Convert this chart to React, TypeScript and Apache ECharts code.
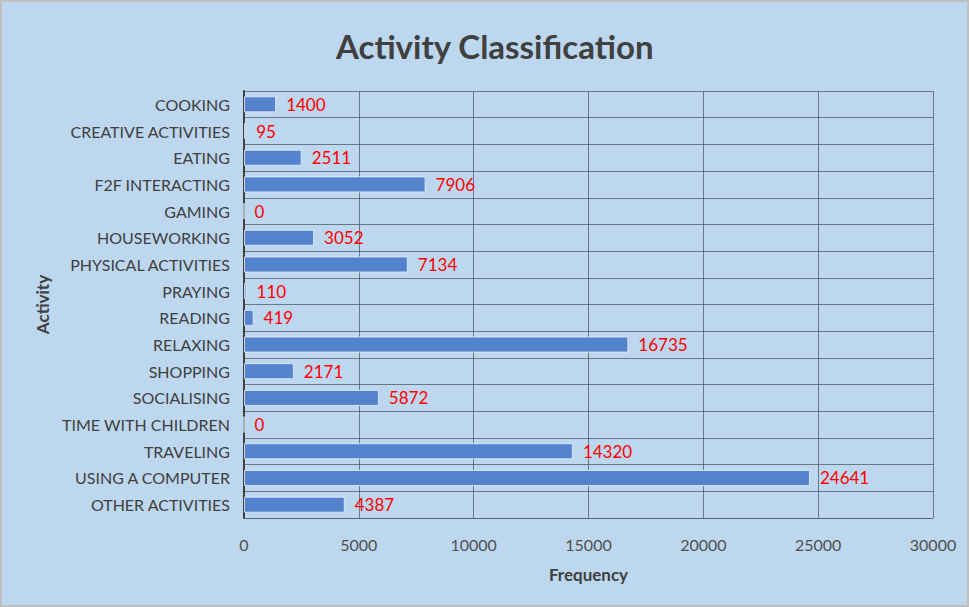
import React, { useEffect, useRef } from "react";
import * as echarts from "echarts";

const categories = [
  "COOKING",
  "CREATIVE ACTIVITIES",
  "EATING",
  "F2F INTERACTING",
  "GAMING",
  "HOUSEWORKING",
  "PHYSICAL ACTIVITIES",
  "PRAYING",
  "READING",
  "RELAXING",
  "SHOPPING",
  "SOCIALISING",
  "TIME WITH CHILDREN",
  "TRAVELING",
  "USING A COMPUTER",
  "OTHER ACTIVITIES",
];
const frequencies = [1400, 95, 2511, 7906, 0, 3052, 7134, 110, 419, 16735, 2171, 5872, 0, 14320, 24641, 4387];
const titleText = "Activity Classification";
const xAxisName = "Frequency";
const yAxisName = "Activity";

const FONT = "Lato, 'Open Sans', sans-serif";

export default function App() {
  const ref = useRef<HTMLDivElement>(null);
  useEffect(() => {
    if (!ref.current) return;
    const chart = echarts.init(ref.current, null, { renderer: "svg" });
    chart.setOption({
      animation: false,
      backgroundColor: "#BDD7EE",
      title: {
        text: titleText,
        left: 329,
        top: 22,
        textStyle: { fontFamily: FONT, fontSize: 33, fontWeight: "bold", color: "#404040" },
      },
      grid: { left: 242, right: 34, top: 89, bottom: 87, containLabel: false },
      xAxis: {
        type: "value",
        min: 0,
        max: 30000,
        interval: 5000,
        name: xAxisName,
        nameLocation: "middle",
        nameGap: 48,
        nameTextStyle: { fontFamily: FONT, fontSize: 17, fontWeight: "bold", color: "#404040" },
        axisLine: { show: true, lineStyle: { color: "rgba(80,90,100,0.7)", width: 1 } },
        axisTick: { show: false },
        axisLabel: {
          fontFamily: FONT,
          fontSize: 16,
          color: "#505050",
          margin: 18,
          formatter: (v: number) => String(v),
        },
        splitLine: { show: true, lineStyle: { color: "rgba(70,80,90,0.7)", width: 1 } },
      },
      yAxis: {
        type: "category",
        data: categories,
        inverse: true,
        name: yAxisName,
        nameLocation: "middle",
        nameGap: 184,
        nameRotate: 90,
        nameTextStyle: { fontFamily: FONT, fontSize: 17, fontWeight: "bold", color: "#404040" },
        axisLine: { show: true, lineStyle: { color: "#404040", width: 2 } },
        axisTick: { show: false },
        axisLabel: { fontFamily: FONT, fontSize: 16, color: "#404040", margin: 14 },
        splitLine: { show: true, lineStyle: { color: "rgba(70,80,90,0.7)", width: 1 } },
      },
      series: [
        {
          type: "bar",
          data: frequencies,
          barWidth: "60%",
          itemStyle: { color: "#5582CC", borderColor: "rgba(230,240,255,0.8)", borderWidth: 1 },
          label: {
            show: true,
            position: "right",
            distance: 10,
            fontFamily: FONT,
            fontSize: 17,
            color: "#FF0000",
          },
        },
      ],
    });
    return () => chart.dispose();
  }, []);
  return (
    <div
      style={{
        position: "fixed",
        left: 0,
        top: 0,
        width: 969,
        height: 607,
        boxSizing: "border-box",
        border: "2px solid #BFBFBF",
        background: "#BDD7EE",
      }}
    >
      <div ref={ref} style={{ width: 965, height: 603 }} />
    </div>
  );
}
